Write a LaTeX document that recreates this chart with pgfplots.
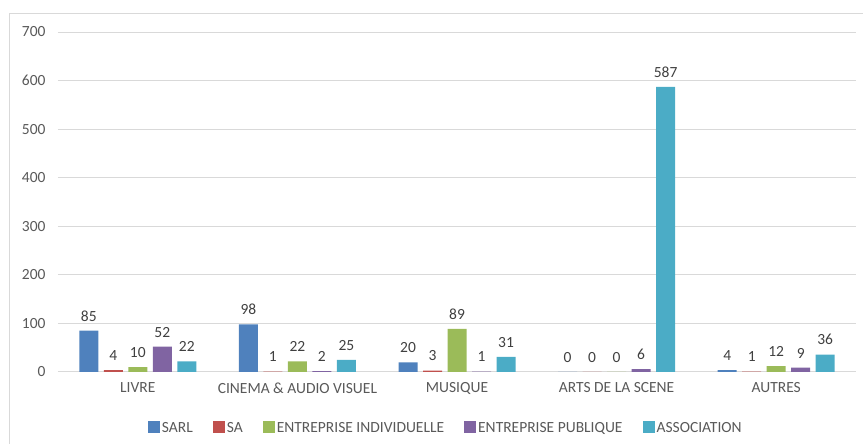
\documentclass[border=0pt]{standalone}
\usepackage{pgfplots}
\pgfplotsset{compat=1.18}
\usepackage{fontspec}
\setmainfont{Carlito}
\definecolor{sarl}{HTML}{4F81BD}
\definecolor{sa}{HTML}{C0504D}
\definecolor{ei}{HTML}{9BBB59}
\definecolor{ep}{HTML}{8064A2}
\definecolor{asso}{HTML}{4BACC6}
\definecolor{gridc}{HTML}{D9D9D9}
\definecolor{txt}{HTML}{595959}
\definecolor{lbl}{HTML}{404040}
\begin{document}
\begin{tikzpicture}
\useasboundingbox (-58pt,-72pt) rectangle (805pt,372pt);
\draw[gridc, line width=1pt] (-48pt,-72pt) -- (-48pt,358pt) -- (805pt,358pt);
\begin{axis}[
  at={(0pt,0pt)}, anchor=south west,
  scale only axis, width=798pt, height=340pt,
  ybar=5.5pt, bar width=19pt,
  xmin=-0.5, xmax=4.5, ymin=0, ymax=700,
  xtick=data,
  xticklabels={LIVRE,CINEMA \& AUDIO VISUEL,MUSIQUE,ARTS DE LA SCENE,AUTRES},
  ytick={0,100,...,700},
  ymajorgrids, grid style={gridc, line width=1pt},
  axis line style={draw=none},
  major tick length=0pt,
  tick label style={font=\fontsize{15.5}{18}\selectfont, text=txt},
  /pgf/number format/assume math mode=true,
  yticklabel style={xshift=-9pt},
  xticklabel style={yshift=-7pt},
  nodes near coords,
  every node near coord/.append style={font=\fontsize{15.5}{18}\selectfont, text=lbl, yshift=6pt},
  legend style={at={(0.486,-0.165)}, anchor=center, draw=none, fill=none, font=\fontsize{15.5}{18}\selectfont, text=txt, legend columns=-1,
    /tikz/every even column/.append style={column sep=18pt}},
  legend image code/.code={\fill[#1] (0pt,-5pt) rectangle (12pt,7pt);},
  legend cell align=left,
]
\addplot[fill=sarl, draw=none] coordinates {(0,85) (1,98) (2,20) (3,0) (4,4)};
\addplot[fill=sa, draw=none] coordinates {(0,4) (1,1) (2,3) (3,0) (4,1)};
\addplot[fill=ei, draw=none] coordinates {(0,10) (1,22) (2,89) (3,0) (4,12)};
\addplot[fill=ep, draw=none] coordinates {(0,52) (1,2) (2,1) (3,6) (4,9)};
\addplot[fill=asso, draw=none] coordinates {(0,22) (1,25) (2,31) (3,587) (4,36)};
\legend{SARL,SA,ENTREPRISE INDIVIDUELLE,ENTREPRISE PUBLIQUE,ASSOCIATION}
\end{axis}
\end{tikzpicture}
\end{document}
